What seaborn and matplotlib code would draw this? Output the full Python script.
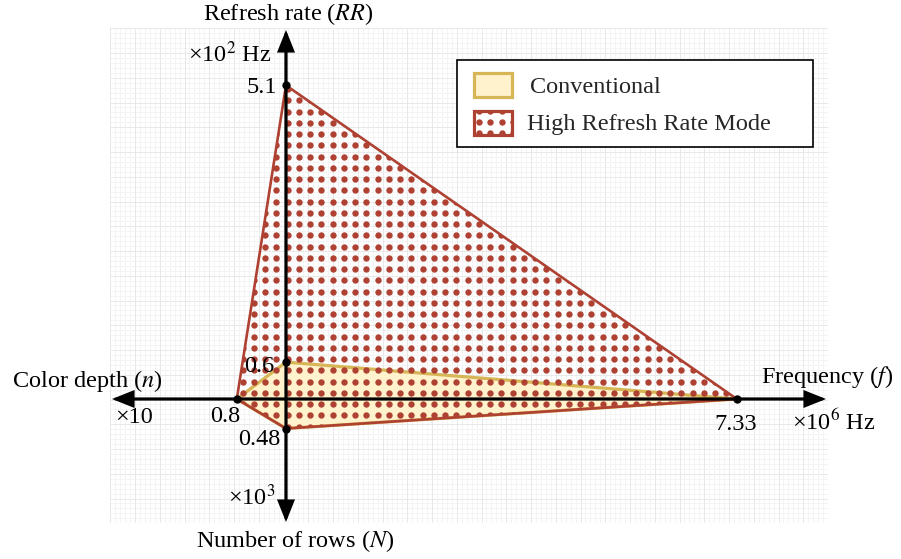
import numpy as np
import matplotlib
matplotlib.use("Agg")
import matplotlib.pyplot as plt
import seaborn as sns
import pandas as pd
from matplotlib.patches import Polygon, Rectangle, FancyArrowPatch

# ---------------- data ----------------
axis_labels = ["Frequency ($f$)", "Refresh rate ($RR$)", "Color depth ($n$)", "Number of rows ($N$)"]
axis_units = [r"×10$^{6}$ Hz", r"×10$^{2}$ Hz", "×10", r"×10$^{3}$"]
series_names = ["Conventional", "High Refresh Rate Mode"]
conventional = [7.33, 0.6, 0.8, 0.48]     # f, RR, n, N
high_refresh = [7.33, 5.1, 0.8, 0.48]     # f, RR, n, N
value_labels = {"f": "7.33", "RR_hi": "5.1", "RR_conv": "0.6", "n": "0.8", "N": "0.48"}

# ---------------- style ----------------
sns.set_theme(style="white")
plt.rcParams["font.family"] = ["Liberation Serif", "DejaVu Serif"]
plt.rcParams["mathtext.fontset"] = "stix"

W, H = 901, 559
S = 61.5          # pixels per unit
OX, OY = 286, 399  # origin pixel

def px(x, y):
    return ((x - OX) / S, (OY - y) / S)

fig = plt.figure(figsize=(W / 100, H / 100), dpi=100)

# background grid (pixel-based decoration)
gx0, gy0, gcell = 110.25, 28.25, 24.75
ncx, ncy = 29, 20
gax = fig.add_axes([gx0 / W, (H - (gy0 + ncy * gcell)) / H, ncx * gcell / W, ncy * gcell / H])
gax.set_xlim(0, ncx)
gax.set_ylim(0, ncy)
for v in np.arange(0, ncx + 0.01, 0.2):
    major = abs(v - round(v)) < 1e-6
    gax.axvline(v, color="#e8e8e8" if major else "#f4f4f4", lw=0.7, zorder=1 if major else 0)
for v in np.arange(0, ncy + 0.01, 0.2):
    major = abs(v - round(v)) < 1e-6
    gax.axhline(v, color="#e8e8e8" if major else "#f4f4f4", lw=0.7, zorder=1 if major else 0)
gax.axis("off")

# main axes in data units
ax = fig.add_axes([0, 0, 1, 1])
ax.set_xlim(-OX / S, (W - OX) / S)
ax.set_ylim(-(H - OY) / S, OY / S)
ax.patch.set_alpha(0)
ax.axis("off")

dirs = [(1, 0), (0, 1), (-1, 0), (0, -1)]

def verts(vals):
    return [(v * dx, v * dy) for v, (dx, dy) in zip(vals, dirs)]

red = "#ae4132"
yel_face, yel_edge = "#fff2cc", "#d6b656"

# Conventional polygon
cv = np.array(verts(conventional))
ax.fill(cv[:, 0], cv[:, 1], facecolor=yel_face, edgecolor=yel_edge, lw=2.3, zorder=2)

# High refresh polygon: dotted pattern clipped to polygon
hv = np.array(verts(high_refresh))
clip = Polygon(hv, closed=True, facecolor="none", edgecolor="none", transform=ax.transData)
ax.add_patch(clip)
sp = 11.25
xs_px = np.arange(287.5 - sp * 30, 900, sp)
ys_px = np.arange(201.5 - sp * 20, 560, sp)
XX, YY = np.meshgrid(xs_px, ys_px)
dx, dy = px(XX.ravel(), YY.ravel())
dots = ax.scatter(dx, dy, s=21, color=red, linewidths=0, zorder=3)
dots.set_clip_path(clip)
ax.add_patch(Polygon(hv, closed=True, fill=False, edgecolor=red, lw=1.9, zorder=4, joinstyle="miter"))

# axis arrows
tips = [px(826, OY), px(OX, 30), px(112, OY), px(OX, 522)]
for t in tips:
    ax.add_patch(FancyArrowPatch((0, 0), t, arrowstyle="-|>,head_length=0.6,head_width=0.24",
                                 mutation_scale=20, lw=2.3, color="black", shrinkA=0, shrinkB=0,
                                 zorder=5, joinstyle="miter"))

# vertex markers
allv = pd.DataFrame(np.vstack([cv, hv]), columns=["x", "y"]).drop_duplicates()
sns.scatterplot(data=allv, x="x", y="y", color="black", s=36, linewidth=0, zorder=6, ax=ax, legend=False)

fs = 17.5
def T(x, y, s, ha="left", va="baseline"):
    ax.text(*px(x, y), s, ha=ha, va=va, fontsize=fs, color="black", zorder=7)

def V(vx, vy, ox, oy, s, ha):
    ax.text(vx + ox / S, vy - oy / S, s, ha=ha, va="baseline", fontsize=fs, color="black", zorder=7)

# value labels (offsets in pixels from the data points)
V(hv[1][0], hv[1][1], -9, 8, value_labels["RR_hi"], "right")
V(cv[1][0], cv[1][1], -12, 10, value_labels["RR_conv"], "right")
V(hv[2][0], hv[2][1], -12, 23, value_labels["n"], "center")
V(hv[3][0], hv[3][1], -6, 16.5, value_labels["N"], "right")
V(hv[0][0], hv[0][1], -1, 31, value_labels["f"], "center")

# axis names and units
T(288, 20, axis_labels[1], ha="center")
T(272, 62, axis_units[1], ha="right")
T(12, 387, axis_labels[2])
T(115, 423, axis_units[2])
T(893, 383, axis_labels[0], ha="right")
T(792, 430, axis_units[0])
T(276, 505, axis_units[3], ha="right")
T(295, 547, axis_labels[3], ha="center")

# legend (manual, pixel layout)
def R(x0, y0, x1, y1, **kw):
    (a, b), (c, d) = px(x0, y1), px(x1, y0)
    r = Rectangle((a, b), c - a, d - b, **kw)
    ax.add_patch(r)
    return r

R(457, 60, 813, 147, facecolor="white", edgecolor="black", lw=1.2, zorder=8)
R(474, 73, 512, 97, facecolor=yel_face, edgecolor=yel_edge, lw=2.3, zorder=9)
rr = R(474, 111, 512, 135, facecolor="white", edgecolor="none", zorder=9)
lx = np.arange(479, 513, sp)
ly = np.arange(110.5, 137, sp)
LX, LY = np.meshgrid(lx, ly)
ldx, ldy = px(LX.ravel(), LY.ravel())
ld = ax.scatter(ldx, ldy, s=21, color=red, linewidths=0, zorder=10)
ld.set_clip_path(rr)
R(474, 111, 512, 135, fill=False, edgecolor=red, lw=2.3, zorder=11)
ax.text(*px(530, 93), series_names[0], fontsize=fs, ha="left", va="baseline", zorder=12)
ax.text(*px(527, 130), series_names[1], fontsize=fs, ha="left", va="baseline", zorder=12)

fig.savefig("out.png", dpi=100)
